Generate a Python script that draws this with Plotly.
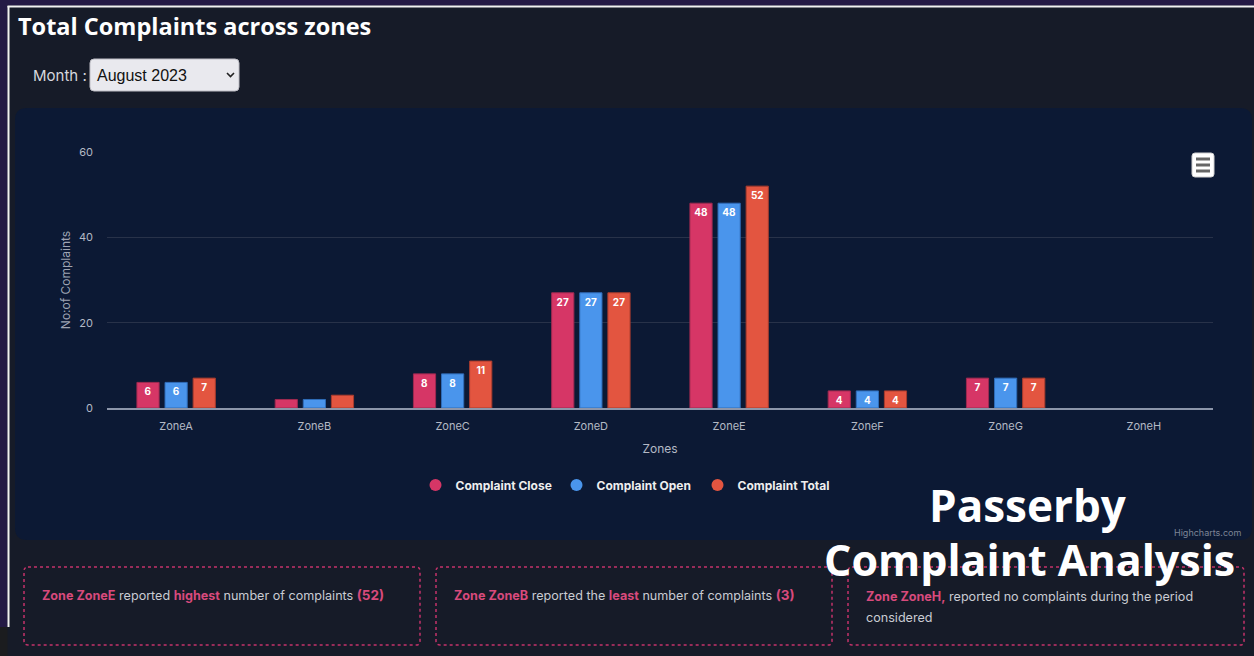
import plotly.graph_objects as go

# ---------------- data ----------------
zones = ["ZoneA", "ZoneB", "ZoneC", "ZoneD", "ZoneE", "ZoneF", "ZoneG", "ZoneH"]
complaint_close = [6, 2, 8, 27, 48, 4, 7, 0]
complaint_open = [6, 2, 8, 27, 48, 4, 7, 0]
complaint_total = [7, 3, 11, 27, 52, 4, 7, 0]
series_names = ["Complaint Close", "Complaint Open", "Complaint Total"]
series_colors = ["#d63666", "#4a95ec", "#e35540"]
series_edges = ["#9e2a50", "#2f6cb8", "#a83c2d"]
y_ticks = [0, 20, 40, 60]
month_label = "August 2023"

# ---------------- geometry helpers ----------------
W, H = 1254, 656
L, R, T, B = 107, 1213, 152, 408


def px(x):
    return (x - L) / (R - L)


def py(y):
    return (B - y) / (B - T)


def rounded(x0, y0, x1, y1, r):
    pts = [
        f"M {px(x0 + r)} {py(y0)}",
        f"L {px(x1 - r)} {py(y0)}",
        f"Q {px(x1)} {py(y0)} {px(x1)} {py(y0 + r)}",
        f"L {px(x1)} {py(y1 - r)}",
        f"Q {px(x1)} {py(y1)} {px(x1 - r)} {py(y1)}",
        f"L {px(x0 + r)} {py(y1)}",
        f"Q {px(x0)} {py(y1)} {px(x0)} {py(y1 - r)}",
        f"L {px(x0)} {py(y0 + r)}",
        f"Q {px(x0)} {py(y0)} {px(x0 + r)} {py(y0)}",
        "Z",
    ]
    return " ".join(pts)


fig = go.Figure()

all_series = [complaint_close, complaint_open, complaint_total]
for name, vals, col, edge in zip(series_names, all_series, series_colors, series_edges):
    fig.add_trace(go.Bar(
        x=zones, y=vals, name=name,
        marker=dict(color=col, line=dict(color=edge, width=[1 if v > 0 else 0 for v in vals])),
        text=[str(v) if v >= 4 else "" for v in vals],
        textposition="inside", insidetextanchor="end", constraintext="none", textangle=0,
        textfont=dict(color="white", size=10, family="Inter", weight="bold"),
        showlegend=False, hoverinfo="skip",
    ))

# legend entries with round markers
for name, col in zip(series_names, series_colors):
    fig.add_trace(go.Scatter(
        x=[None], y=[None], mode="markers", name=name,
        marker=dict(color=col, size=12, symbol="circle"),
        showlegend=True, hoverinfo="skip",
    ))

shapes = []
# outer frame
shapes.append(dict(type="rect", xref="paper", yref="paper", x0=px(0), x1=px(W), y0=py(5.5), y1=py(0),
                   fillcolor="#241a45", line=dict(width=0), layer="below"))
shapes.append(dict(type="rect", xref="paper", yref="paper", x0=px(0), x1=px(7.5), y0=py(627), y1=py(0),
                   fillcolor="#241a45", line=dict(width=0), layer="below"))
shapes.append(dict(type="rect", xref="paper", yref="paper", x0=px(0), x1=px(7.5), y0=py(H), y1=py(627),
                   fillcolor="#1b1c1f", line=dict(width=0), layer="below"))
shapes.append(dict(type="line", xref="paper", yref="paper", x0=px(7.5), x1=px(W), y0=py(6.5), y1=py(6.5),
                   line=dict(color="#f2f2f2", width=2), layer="below"))
shapes.append(dict(type="line", xref="paper", yref="paper", x0=px(8.5), x1=px(8.5), y0=py(627), y1=py(6),
                   line=dict(color="#f2f2f2", width=2), layer="below"))
# chart panel
shapes.append(dict(type="path", xref="paper", yref="paper", path=rounded(15, 108, 1252, 540, 12),
                   fillcolor="#0c1934", line=dict(width=0), layer="below"))
# month dropdown
shapes.append(dict(type="path", xref="paper", yref="paper", path=rounded(90, 59, 239, 91, 4),
                   fillcolor="#e9e9ee", line=dict(color="#bdbdc4", width=1), layer="above"))
shapes.append(dict(type="path", xref="paper", yref="paper",
                   path=f"M {px(227)} {py(73)} L {px(230.5)} {py(76.5)} L {px(234)} {py(73)}",
                   line=dict(color="#222", width=1.6), layer="above"))
# hamburger menu button
shapes.append(dict(type="path", xref="paper", yref="paper", path=rounded(1192, 153, 1214, 177, 3),
                   fillcolor="#ffffff", line=dict(color="#d0d0d0", width=1), layer="above"))
for yy in (159, 165, 171):
    shapes.append(dict(type="line", xref="paper", yref="paper", x0=px(1196), x1=px(1210), y0=py(yy), y1=py(yy),
                       line=dict(color="#666666", width=3), layer="above"))
# insight boxes
for x0, x1 in ((24, 420), (436, 832), (848, 1244)):
    shapes.append(dict(type="path", xref="paper", yref="paper", path=rounded(x0, 567, x1, 645, 4),
                       fillcolor="rgba(0,0,0,0)", line=dict(color="#c3336a", width=1.5, dash="3px,3px"),
                       layer="above"))

PINK = "#d84a7c"
GREY = "#c9ccd3"

# insights derived from data
imax = max(range(len(zones)), key=lambda i: complaint_total[i])
nonzero = [i for i in range(len(zones)) if complaint_total[i] > 0]
imin = min(nonzero, key=lambda i: complaint_total[i])
izero = [zones[i] for i in range(len(zones)) if complaint_total[i] == 0]

t1 = (f"<b><span style='color:{PINK}'>Zone {zones[imax]}</span></b> reported "
      f"<b><span style='color:{PINK}'>highest</span></b> number of complaints "
      f"<b><span style='color:{PINK};font-size:13.5px'>({complaint_total[imax]})</span></b>")
t2 = (f"<b><span style='color:{PINK}'>Zone {zones[imin]}</span></b> reported the "
      f"<b><span style='color:{PINK}'>least</span></b> number of complaints "
      f"<b><span style='color:{PINK};font-size:13.5px'>({complaint_total[imin]})</span></b>")
t3 = (f"<b><span style='color:{PINK}'>Zone {', '.join(izero)},</span></b> reported no complaints during the period")

annotations = [
    dict(text="<b>Total Complaints across zones</b>", x=px(16), y=py(26), xanchor="left", yanchor="middle",
         font=dict(family="Open Sans", size=23.5, color="#ffffff")),
    dict(text="Month :", x=px(31), y=py(75), xanchor="left", yanchor="middle",
         font=dict(family="Inter", size=15, color="#d6d8de")),
    dict(text=month_label, x=px(95), y=py(75), xanchor="left", yanchor="middle",
         font=dict(family="Liberation Sans", size=16, color="#111111")),
    dict(text="Highcharts.com", x=px(1243), y=py(532), xanchor="right", yanchor="middle",
         font=dict(family="Inter", size=9, color="#7d8596")),
    dict(text=t1, x=px(40), y=py(595), xanchor="left", yanchor="middle",
         font=dict(family="Inter", size=12.6, color=GREY)),
    dict(text=t2, x=px(452), y=py(595), xanchor="left", yanchor="middle",
         font=dict(family="Inter", size=12.6, color=GREY)),
    dict(text=t3, x=px(864), y=py(596), xanchor="left", yanchor="middle",
         font=dict(family="Inter", size=12.6, color=GREY)),
    dict(text="considered", x=px(864), y=py(617), xanchor="left", yanchor="middle",
         font=dict(family="Inter", size=12.6, color=GREY)),
    dict(text="Passerby", x=px(1028), y=py(505), xanchor="center", yanchor="middle",
         font=dict(family="Open Sans", size=44, color="#ffffff", weight=700)),
    dict(text="Complaint Analysis", x=px(1029), y=py(559), xanchor="center", yanchor="middle",
         font=dict(family="Open Sans", size=43, color="#ffffff", weight=700)),
]
for a in annotations:
    a.update(xref="paper", yref="paper", showarrow=False)

fig.update_layout(
    width=W, height=H, autosize=False,
    margin=dict(l=L, r=W - R, t=T, b=H - B, pad=0),
    paper_bgcolor="#161b28", plot_bgcolor="rgba(0,0,0,0)",
    barmode="group", bargap=0.39, bargroupgap=0.21,
    font=dict(family="Inter", color="#b4b9c5"),
    xaxis=dict(
        type="category", showgrid=False, zeroline=False,
        showline=True, linecolor="#8d96aa", linewidth=2,
        ticks="", ticklabelstandoff=7, tickfont=dict(size=11, color="#b4b9c5"),
        title=dict(text="Zones", font=dict(size=12, color="#b4b9c5"), standoff=12),
    ),
    yaxis=dict(
        range=[0, 60], tickvals=y_ticks, showgrid=True, gridcolor="#283249", gridwidth=1,
        zeroline=False, showline=False, ticks="", ticklabelstandoff=13,
        tickfont=dict(size=11, color="#b4b9c5"),
        title=dict(text="No:of Complaints", font=dict(size=12, color="#9ea4b3"), standoff=5),
    ),
    legend=dict(
        orientation="h", xref="container", yref="container",
        x=0.5, xanchor="center", y=1 - 485 / H, yanchor="middle",
        entrywidth=96, entrywidthmode="pixels",
        font=dict(size=12, color="#eeeeee", weight="bold"),
        bgcolor="rgba(0,0,0,0)", itemclick=False, itemdoubleclick=False,
    ),
    shapes=shapes, annotations=annotations, hovermode=False,
)

fig.write_html("out.html", config={"displayModeBar": False},
               post_script="document.body.style.margin='0px';document.body.style.overflow='hidden';")
